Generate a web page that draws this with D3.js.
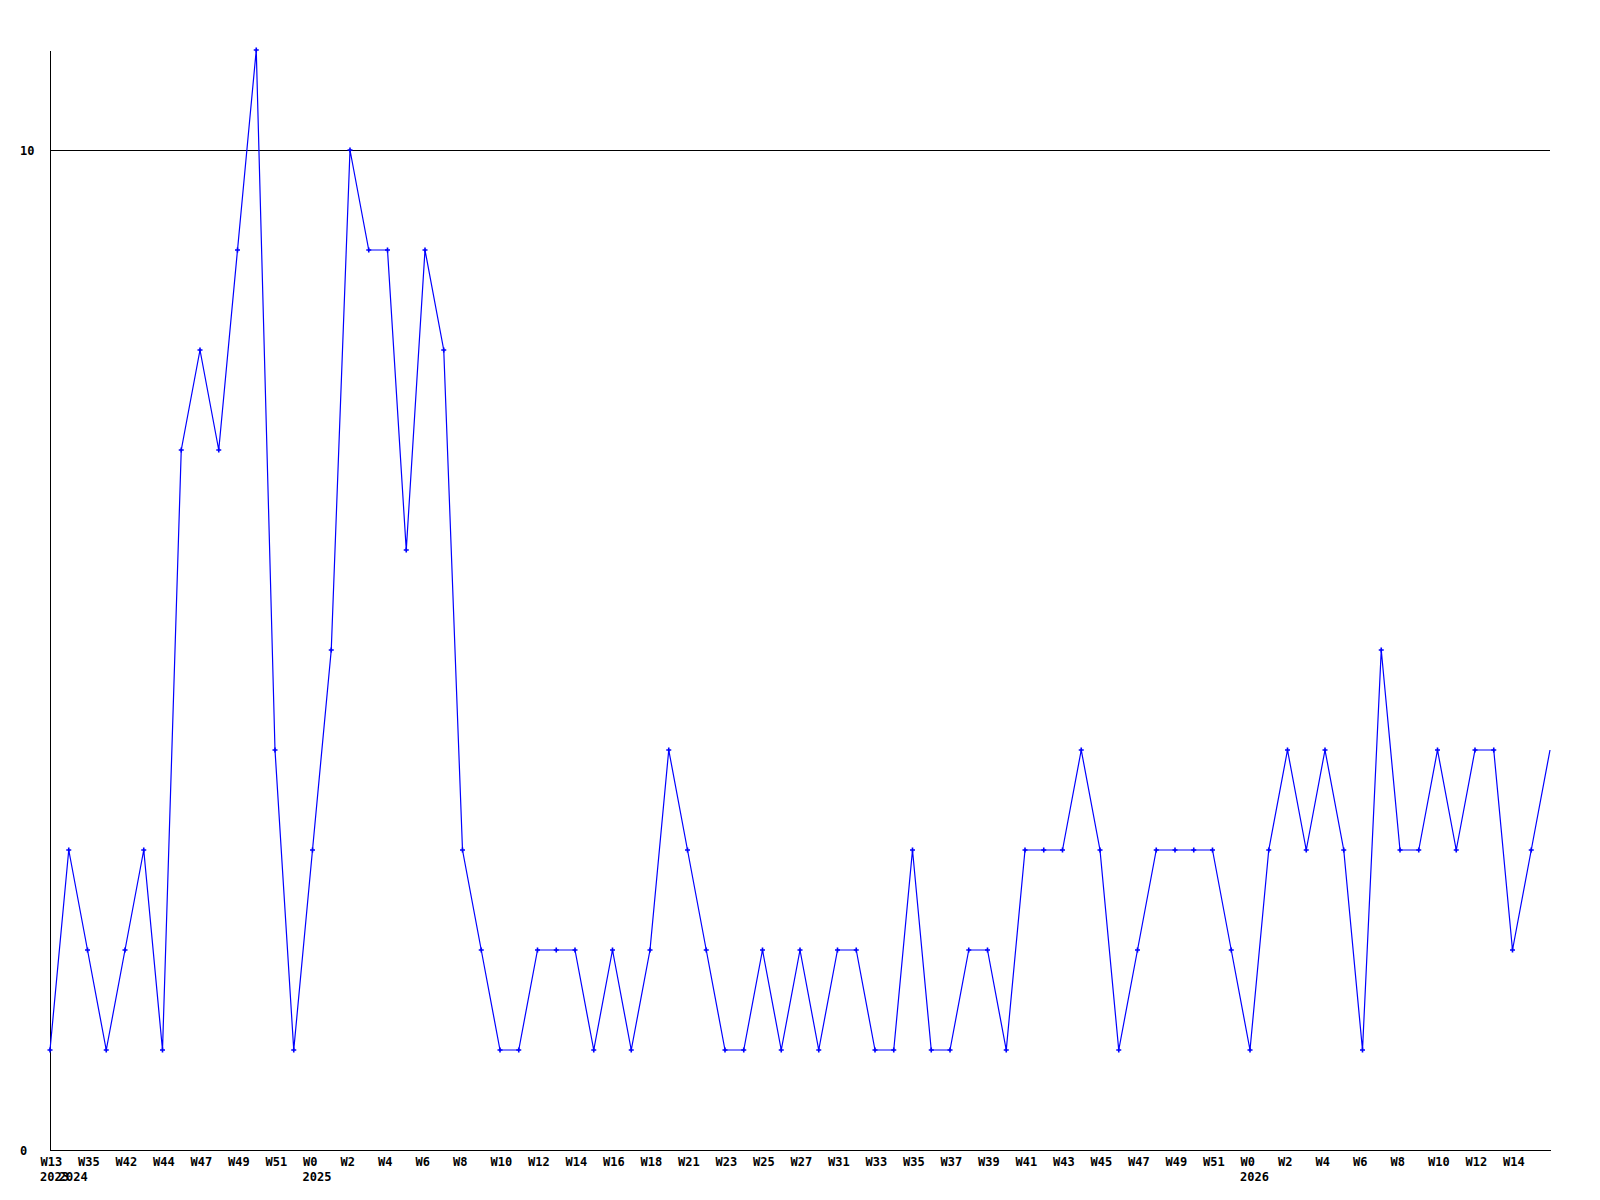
<!DOCTYPE html>
<html>
<head>
<meta charset="utf-8">
<script src="https://cdn.jsdelivr.net/npm/d3@7"></script>
<style>
  body { margin: 0; background: #fff; }
  text { font-family: "DejaVu Sans Mono", monospace; font-weight: bold; font-size: 12px; fill: #000; }
</style>
</head>
<body>
<div id="container"></div>
<script>
// one value per week, 81 weeks
var values = [1, 3, 2, 1, 2, 3, 1, 7, 8, 7, 9, 11, 4, 1, 3, 5, 10, 9, 9, 6,
              9, 8, 3, 2, 1, 1, 2, 2, 2, 1, 2, 1, 2, 4, 3, 2, 1, 1, 2, 1,
              2, 1, 2, 2, 1, 1, 3, 1, 1, 2, 2, 1, 3, 3, 3, 4, 3, 1, 2, 3,
              3, 3, 3, 2, 1, 3, 4, 3, 4, 3, 1, 5, 3, 3, 4, 3, 4, 4, 2, 3, 4];

// labels on every second week
var weekLabels = ["W13", "W35", "W42", "W44", "W47", "W49", "W51", "W0", "W2", "W4",
                  "W6", "W8", "W10", "W12", "W14", "W16", "W18", "W21", "W23", "W25",
                  "W27", "W31", "W33", "W35", "W37", "W39", "W41", "W43", "W45", "W47",
                  "W49", "W51", "W0", "W2", "W4", "W6", "W8", "W10", "W12", "W14"];
// year label at the week where the year changes
var yearIdx = [0, 1, 14, 64];
var yearNames = ["2023", "2024", "2025", "2026"];

var yTicks = [0, 10];
var yGrid = [10];

var width = 1600, height = 1200;

var svg = d3.select("#container").append("svg")
    .attr("width", width).attr("height", height);

var x = d3.scaleLinear().domain([0, values.length - 1]).range([50, 1550]);
var y = d3.scaleLinear().domain([0, 11]).range([1150, 50]);

var tickIdx = weekLabels.map(function (d, i) { return i * 2; });

// grid
svg.selectAll(".grid").data(yGrid).enter().append("line")
    .attr("x1", x(0)).attr("x2", x(values.length - 1))
    .attr("y1", function (d) { return y(d) + 0.5; })
    .attr("y2", function (d) { return y(d) + 0.5; })
    .attr("stroke", "#000").attr("shape-rendering", "crispEdges");

// x axis
var xAxis = svg.append("g").attr("transform", "translate(0," + 1150 + ")")
    .call(d3.axisBottom(x).tickValues(tickIdx).tickSize(0)
      .tickFormat(function (d) { return weekLabels[d / 2]; }));
xAxis.select(".domain").attr("stroke", "#000").attr("shape-rendering", "crispEdges");
xAxis.attr("font-family", null).attr("font-size", null);
xAxis.selectAll("text").attr("text-anchor", "start").attr("x", -10).attr("y", 16).attr("dy", null);

// years
svg.selectAll(".year").data(yearIdx).enter().append("text")
    .attr("class", "year")
    .attr("x", function (d) { return x(d) - 10; })
    .attr("y", 1150 + 31)
    .text(function (d, i) { return yearNames[i]; });

// y axis
var yAxis = svg.append("g").attr("transform", "translate(50,0)")
    .call(d3.axisLeft(y).tickValues(yTicks).tickSize(0).tickFormat(d3.format("d")));
yAxis.select(".domain").attr("stroke", "#000").attr("shape-rendering", "crispEdges");
yAxis.attr("font-family", null).attr("font-size", null);
yAxis.selectAll("text").attr("text-anchor", "start").attr("x", -30).attr("dy", "0.35em");

// series line
var line = d3.line()
    .x(function (d, i) { return x(i); })
    .y(function (d) { return y(d); });

svg.append("path").datum(values)
    .attr("d", line)
    .attr("fill", "none")
    .attr("stroke", "#0000ff")
    .attr("stroke-width", 1.2);

// point markers (none on the last week)
svg.selectAll(".pt").data(values.slice(0, values.length - 1)).enter().append("path")
    .attr("class", "pt")
    .attr("transform", function (d, i) { return "translate(" + x(i) + "," + y(d) + ")"; })
    .attr("d", "M-2.5,-0.8H-0.8V-2.5H0.8V-0.8H2.5V0.8H0.8V2.5H-0.8V0.8H-2.5Z")
    .attr("fill", "#0000ff");
</script>
</body>
</html>
